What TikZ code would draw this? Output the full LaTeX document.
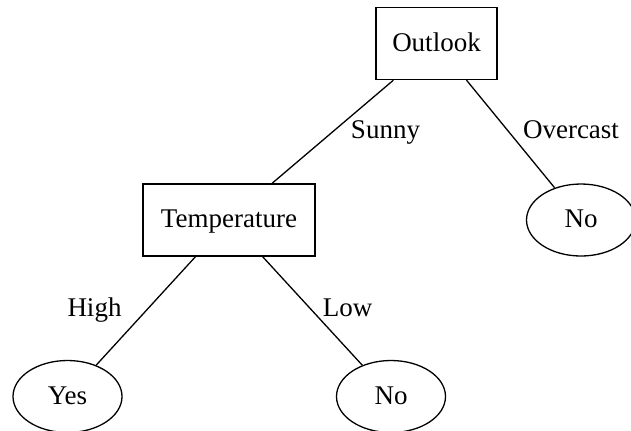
\documentclass[tikz,border=0pt]{standalone}
\usepackage{fontspec}
\setmainfont{Liberation Serif}
\usetikzlibrary{shapes.geometric}
\begin{document}
\begin{tikzpicture}[
  x=0.5pt, y=-0.5pt,
  every node/.style={font=\fontsize{13.5}{16}\selectfont, text height=7.5pt, text depth=0pt},
  decision/.style={draw, rectangle, line width=0.65pt, minimum height=36pt, inner sep=0pt},
  leaf/.style={draw, ellipse, line width=0.65pt, minimum width=54.5pt, minimum height=36pt, inner sep=0pt},
  branch/.style={line width=0.65pt},
  edgelabel/.style={anchor=base, inner sep=0pt}
]
  % page frame
  \useasboundingbox (0,0) rectangle (631,430);

  % tree nodes
  \node[decision, minimum width=60.5pt] (outlook) at (436.5,43.5) {Outlook};
  \node[decision, minimum width=86pt]   (temp)    at (229,220)    {Temperature};
  \node[leaf] (noR) at (581,220) {No};
  \node[leaf] (yes) at (67.5,396.5) {Yes};
  \node[leaf] (noB) at (391,396.5) {No};

  % branches
  \draw[branch] (outlook) -- (temp);
  \draw[branch] (outlook) -- (noR);
  \draw[branch] (temp) -- (yes);
  \draw[branch] (temp) -- (noB);

  % branch labels
  \node[edgelabel] (lSunny)    at (385.5,138) {Sunny};
  \node[edgelabel] (lOvercast) at (571,138)   {Overcast};
  \node[edgelabel] (lHigh)     at (94.5,316)  {High};
  \node[edgelabel] (lLow)      at (347.5,316) {Low};
\end{tikzpicture}
\end{document}
